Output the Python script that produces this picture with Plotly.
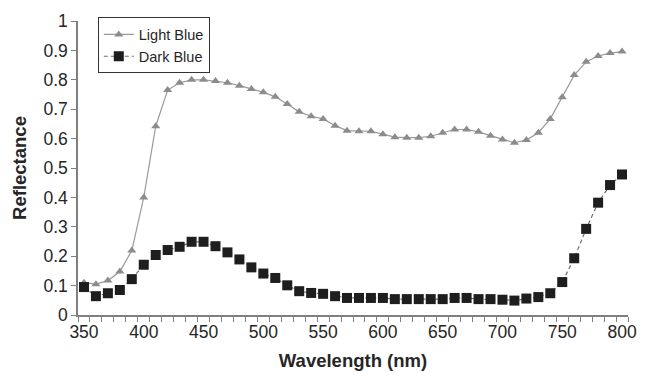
import plotly.graph_objects as go

wavelength = list(range(350, 801, 10))

light_blue = [0.11, 0.105, 0.117, 0.148, 0.219, 0.40, 0.642, 0.765, 0.79, 0.80,
              0.80, 0.796, 0.79, 0.78, 0.769, 0.758, 0.742, 0.718, 0.691, 0.676,
              0.667, 0.644, 0.627, 0.625, 0.625, 0.615, 0.605, 0.603, 0.603, 0.608,
              0.62, 0.631, 0.631, 0.623, 0.61, 0.597, 0.586, 0.595, 0.62, 0.667,
              0.741, 0.816, 0.861, 0.881, 0.891, 0.896]

dark_blue = [0.095, 0.064, 0.074, 0.085, 0.122, 0.171, 0.204, 0.221, 0.232, 0.249,
             0.249, 0.234, 0.213, 0.189, 0.162, 0.141, 0.126, 0.101, 0.081, 0.075,
             0.072, 0.064, 0.058, 0.058, 0.058, 0.058, 0.054, 0.054, 0.054, 0.054,
             0.054, 0.058, 0.058, 0.054, 0.054, 0.052, 0.049, 0.056, 0.061, 0.074,
             0.112, 0.193, 0.293, 0.382, 0.442, 0.478]

x_labels = list(range(350, 801, 50))
x_minor = list(range(345, 806, 10))
y_ticks = [round(i * 0.1, 1) for i in range(11)]

FONT = "Liberation Sans, Arial, sans-serif"
AXIS = "#808080"

fig = go.Figure()
fig.add_trace(go.Scatter(
    x=wavelength, y=light_blue, name="Light Blue", mode="lines+markers",
    line=dict(color="#9a9a9a", width=1.2),
    marker=dict(symbol="triangle-up", size=8, color="#8c8c8c"),
))
fig.add_trace(go.Scatter(
    x=wavelength, y=dark_blue, name="Dark Blue", mode="lines+markers",
    line=dict(color="#6e6e6e", width=1.2, dash="4px,3px"),
    marker=dict(symbol="square", size=10, color="#1e1e1e"),
))

fig.update_layout(
    width=648, height=380,
    margin=dict(l=78, r=11, t=17, b=65),
    paper_bgcolor="white", plot_bgcolor="white",
    font=dict(family=FONT, color="#262626", size=17),
    showlegend=True,
    legend=dict(
        x=0.036, y=1.012, xanchor="left", yanchor="top",
        bordercolor="#333333", borderwidth=1, bgcolor="white",
        font=dict(size=14.5, color="#262626"),
        itemwidth=30, tracegroupgap=0,
    ),
    xaxis=dict(
        range=[345, 805], tickmode="array", tickvals=x_labels,
        ticktext=[str(v) for v in x_labels],
        ticks="", showgrid=False, zeroline=False,
        showline=True, linecolor=AXIS, linewidth=1.5,
        tickfont=dict(size=17.5),
        minor=dict(tickmode="array", tickvals=x_minor, ticks="outside",
                   ticklen=5, tickcolor=AXIS, tickwidth=1, showgrid=False),
        title=dict(text="<b>Wavelength (nm)</b>", font=dict(size=18.5), standoff=13),
    ),
    yaxis=dict(
        range=[0, 1], tickmode="array", tickvals=y_ticks,
        ticktext=["0" if v == 0 else ("1" if v == 1 else str(v)) for v in y_ticks],
        ticks="outside", ticklen=5, tickcolor=AXIS, tickwidth=1,
        showgrid=False, zeroline=False,
        showline=True, linecolor=AXIS, linewidth=1.5,
        tickfont=dict(size=17.5),
        title=dict(text="<b>Reflectance</b>", font=dict(size=18.5), standoff=12),
    ),
)

fig.write_html("out.html")
